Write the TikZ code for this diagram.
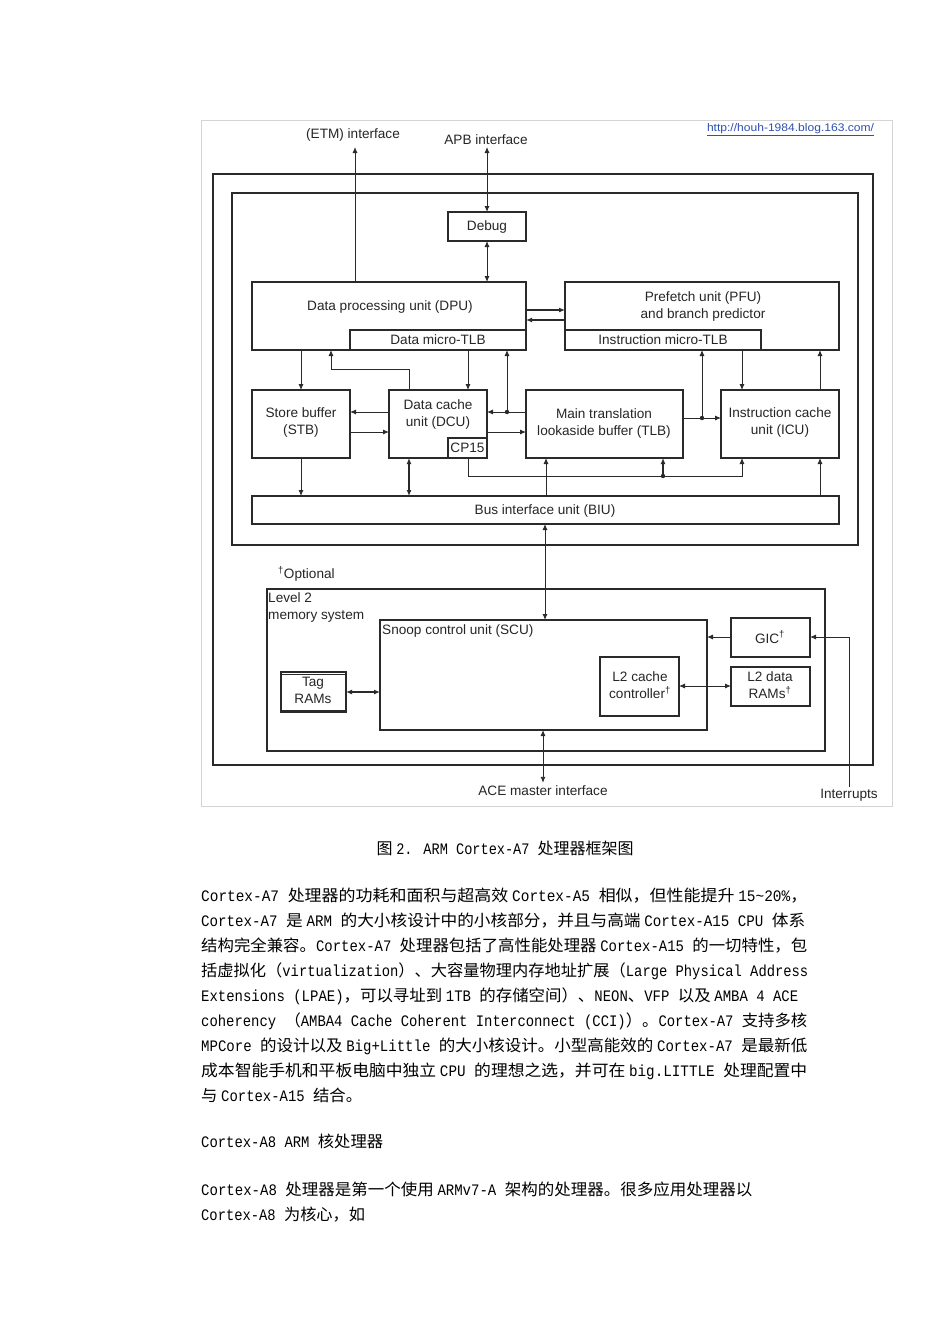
\documentclass[tikz,border=0pt]{standalone}
\usepackage{fontspec}
\usepackage{graphicx}
\setmainfont{Liberation Sans}
\newfontfamily\cjkf{Noto Sans CJK SC}
\newfontfamily\monof[FakeStretch=0.85]{Liberation Mono}
\usetikzlibrary{arrows.meta,calc}
\makeatletter
\newcount\mycc
\mycc="4E00
\loop\XeTeXcharclass\mycc=1 \advance\mycc by 1 \ifnum\mycc<"A000 \repeat
\mycc="3000
\loop\XeTeXcharclass\mycc=1 \advance\mycc by 1 \ifnum\mycc<"3040 \repeat
\mycc="FF00
\loop\XeTeXcharclass\mycc=1 \advance\mycc by 1 \ifnum\mycc<"FFF0 \repeat
\newcommand\cjksw{\fontsize{16}{18}\cjkf}
\newcommand\monosw{\fontsize{16}{18}\monof}
\XeTeXinterchartoks 0 1 = {\cjksw}
\XeTeXinterchartoks \e@alloc@intercharclass@top 1 = {\cjksw}
\XeTeXinterchartoks 1 0 = {\monosw}
\XeTeXinterchartoks \e@alloc@intercharclass@top 0 = {\monosw}
\makeatother
\newcommand\bodyfont{\XeTeXinterchartokenstate=1 \monosw}
\newcommand\bl[2]{\resizebox{#1pt}{\height}{#2}}
\definecolor{lc}{HTML}{2A2A2A}
\definecolor{tc}{HTML}{262626}
\definecolor{urlc}{HTML}{3050B0}
\definecolor{fr}{HTML}{D4D4D4}
\tikzset{
  box/.style={draw=lc, line width=1.1pt, anchor=north west, inner sep=0pt, outer sep=0pt},
  lbl/.style={font=\fontsize{13.6}{17}\selectfont, text=tc, inner sep=0pt, align=center},
  arr/.style={draw=lc, line width=0.9pt, -{Latex[length=6pt,width=5pt]}},
  darr/.style={draw=lc, line width=0.9pt, {Latex[length=6pt,width=5pt]}-{Latex[length=6pt,width=5pt]}},
  dotn/.style={circle, fill=lc, inner sep=0pt, minimum size=4.4pt},
  body/.style={font=\bodyfont, text=black, anchor=base west, inner sep=0pt}
}
\newcommand\bx[5]{\node[box, minimum width=#4pt, minimum height=#5pt] (#1) at (#2,#3) {};}
\begin{document}
\begin{tikzpicture}[x=1pt,y=-1pt]
\useasboundingbox (0,0) rectangle (950,1344);
\fill[white] (0,0) rectangle (950,1344);
% frames
\node[box, draw=fr, line width=0.8pt, minimum width=691pt, minimum height=686pt] (frame) at (201,120) {};
\node[box, line width=1.5pt, minimum width=660pt, minimum height=591pt] (outer) at (213,174) {};
\node[box, line width=1.3pt, minimum width=626pt, minimum height=352pt] (inner) at (232,193) {};
% core boxes
\bx{debug}{448}{212}{78}{29}
\bx{dpu}{252}{282}{274}{68}
\bx{dtlb}{350}{330}{176}{20}
\bx{pfu}{565}{282}{274}{68}
\bx{itlb}{565}{330}{196}{20}
\bx{stb}{252}{390}{98}{68}
\bx{dcu}{389}{390}{98}{68}
\bx{cp15}{448}{438}{39}{20}
\bx{tlb}{526}{390}{157}{68}
\bx{icu}{721}{390}{118}{68}
\bx{biu}{252}{496}{587}{28}
% L2 boxes
\node[box, line width=1.3pt, minimum width=558pt, minimum height=162pt] (l2) at (267,589) {};
\bx{scu}{380}{620}{327}{110}
\bx{gic}{731}{618}{79}{39}
\bx{l2d}{731}{667}{79}{39}
\bx{l2cc}{600}{657}{79}{59}
\node[box, line width=1.3pt, minimum width=65pt, minimum height=40pt] (tag) at (281,672) {};
\draw[lc, line width=0.8pt] ([yshift=-2pt]tag.north west) -- ([yshift=-2pt]tag.north east);
\draw[lc, line width=0.8pt] ([yshift=2pt]tag.south west) -- ([yshift=2pt]tag.south east);
% labels
\node[font=\fontsize{11}{12}\selectfont, text=urlc, inner sep=0pt] (url) at (790.5,130) {\resizebox{167pt}{\height}{\underline{http://houh-1984.blog.163.com/}}};
\node[lbl] (etmt) at (353,135) {(ETM) interface};
\node[lbl] (apbt) at (486,140) {APB interface};
\node[lbl] (debugt) at (487,227) {Debug};
\node[lbl] (dput) at (390,307) {Data processing unit (DPU)};
\node[lbl] (dtlbt) at (438,340) {Data micro-TLB};
\node[lbl] (pfut) at (703,306.5) {Prefetch unit (PFU)\\and branch predictor};
\node[lbl] (itlbt) at (663,340) {Instruction micro-TLB};
\node[lbl] (stbt) at (301,422.5) {Store buffer\\(STB)};
\node[lbl] (dcut) at (438,414) {Data cache\\unit (DCU)};
\node[lbl] (cp15t) at (467.5,447.5) {CP15};
\node[lbl] (tlbt) at (604,423) {Main translation\\lookaside buffer (TLB)};
\node[lbl] (icut) at (780,422.5) {Instruction cache\\unit (ICU)};
\node[lbl] (biut) at (545,511) {Bus interface unit (BIU)};
\node[lbl, anchor=west] (optt) at (278,574) {\textsuperscript{\textdagger}Optional};
\node[lbl, align=left, anchor=west] (l2t) at (268,607) {Level 2\\memory system};
\node[lbl, anchor=west] (scut) at (382,631) {Snoop control unit (SCU)};
\node[lbl] (gict) at (770,637) {GIC\textsuperscript{\textdagger}};
\node[lbl] (l2dt) at (770,685.5) {L2 data\\RAMs\textsuperscript{\textdagger}};
\node[lbl] (l2cct) at (640,685.5) {L2 cache\\controller\textsuperscript{\textdagger}};
\node[lbl] (tagt) at (313,690.5) {Tag\\RAMs};
\node[lbl] (ace) at (543,791) {ACE master interface};
\node[lbl] (intr) at (849,795) {Interrupts};
% helper coordinates
\coordinate (etm) at (355,147);
\coordinate (apb) at (487,147);
\coordinate (ya) at (0,310);
\coordinate (yb) at (0,320);
\coordinate (c409) at (409,369);
\coordinate (c331) at (331,369);
\coordinate (x468) at (468,0);
\coordinate (j1) at (507,412);
\coordinate (y432) at (0,432);
\coordinate (j2) at (702,418);
\coordinate (x742) at (742,0);
\coordinate (x820) at (820,0);
\coordinate (k1) at (468,476);
\coordinate (k2) at (742,476);
\coordinate (j3) at (663,476);
\coordinate (x546) at (546,0);
\coordinate (x545) at (545,0);
\coordinate (y637) at (0,637);
\coordinate (ic) at (849,637);
\coordinate (y686) at (0,686);
\coordinate (y692) at (0,692);
% connectors
\draw[arr] (dpu.north -| etm) -- (etm);
\draw[darr] (apb) -- (debug.north);
\draw[darr] (debug.south) -- (debug.south |- dpu.north);
\draw[arr, line width=1.6pt] (dpu.east |- ya) -- (pfu.west |- ya);
\draw[arr, line width=1.6pt] (pfu.west |- yb) -- (dpu.east |- yb);
\draw[arr] (stb.north |- dpu.south) -- (stb.north);
\draw[arr] (dcu.north -| c409) -- (c409) -- (c331) -- (dpu.south -| c331);
\draw[arr] (dtlb.south -| x468) -- (dcu.north -| x468);
\draw[arr] (tlb.west |- j1) -- (dcu.east |- j1);
\draw[arr] (j1) -- (dtlb.south -| j1);
\node[dotn] (d1) at (j1) {};
\draw[arr] (dcu.west |- j1) -- (stb.east |- j1);
\draw[arr] (stb.east |- y432) -- (dcu.west |- y432);
\draw[arr] (dcu.east |- y432) -- (tlb.west |- y432);
\draw[arr] (tlb.east |- j2) -- (icu.west |- j2);
\draw[arr] (j2) -- (itlb.south -| j2);
\node[dotn] (d2) at (j2) {};
\draw[arr] (itlb.south -| x742) -- (icu.north -| x742);
\draw[arr] (icu.north -| x820) -- (pfu.south -| x820);
\draw[arr] (cp15.south -| k1) -- (k1) -- (k2) -- (icu.south -| k2);
\draw[arr, line width=1.3pt] (j3) -- (tlb.south -| j3);
\node[dotn] (d3) at (j3) {};
\draw[arr] (stb.south) -- (stb.south |- biu.north);
\draw[darr, line width=1.5pt] (dcu.south -| c409) -- (biu.north -| c409);
\draw[arr] (biu.north -| x546) -- (tlb.south -| x546);
\draw[arr] (biu.north -| x820) -- (icu.south -| x820);
\draw[darr] (biu.south -| x545) -- (scu.north -| x545);
\draw[darr, shorten >=3pt] (scu.south -| ace.north) -- (ace.north);
\draw[arr] (gic.west |- y637) -- (scu.east |- y637);
\draw[arr, shorten <=2pt] (intr.north) -- (ic) -- (gic.east |- ic);
\draw[darr] (l2cc.east |- y686) -- (l2d.west |- y686);
\draw[darr, line width=1.5pt] (tag.east |- y692) -- (scu.west |- y692);
% body text
\node[body] (cap) at (376.5,854) {\bl{257}{图 2. ARM Cortex-A7 处理器框架图}};
\node[body] (p1) at (201,901) {\bl{606}{Cortex-A7 处理器的功耗和面积与超高效 Cortex-A5 相似，但性能提升 15\textasciitilde20\%，}};
\node[body] (p2) at (201,926) {\bl{604}{Cortex-A7 是 ARM 的大小核设计中的小核部分，并且与高端 Cortex-A15 CPU 体系}};
\node[body] (p3) at (201,951) {\bl{606}{结构完全兼容。Cortex-A7 处理器包括了高性能处理器 Cortex-A15 的一切特性，包}};
\node[body] (p4) at (201,976) {\bl{607}{括虚拟化（virtualization）、大容量物理内存地址扩展（Large Physical Address}};
\node[body] (p5) at (201,1001) {\bl{597}{Extensions (LPAE)，可以寻址到 1TB 的存储空间）、NEON、VFP 以及 AMBA 4 ACE}};
\node[body] (p6) at (201,1026) {\bl{606}{coherency （AMBA4 Cache Coherent Interconnect (CCI)）。Cortex-A7 支持多核}};
\node[body] (p7) at (201,1051) {\bl{606}{MPCore 的设计以及 Big+Little 的大小核设计。小型高能效的 Cortex-A7 是最新低}};
\node[body] (p8) at (201,1076) {\bl{606}{成本智能手机和平板电脑中独立 CPU 的理想之选，并可在 big.LITTLE 处理配置中}};
\node[body] (p9) at (201,1101) {\bl{161}{与 Cortex-A15 结合。}};
\node[body] (a8t) at (201,1147) {\bl{182}{Cortex-A8 ARM 核处理器}};
\node[body] (a81) at (201,1195) {\bl{551}{Cortex-A8 处理器是第一个使用 ARMv7-A 架构的处理器。很多应用处理器以}};
\node[body] (a82) at (201,1220) {\bl{164}{Cortex-A8 为核心，如}};
\end{tikzpicture}
\end{document}
